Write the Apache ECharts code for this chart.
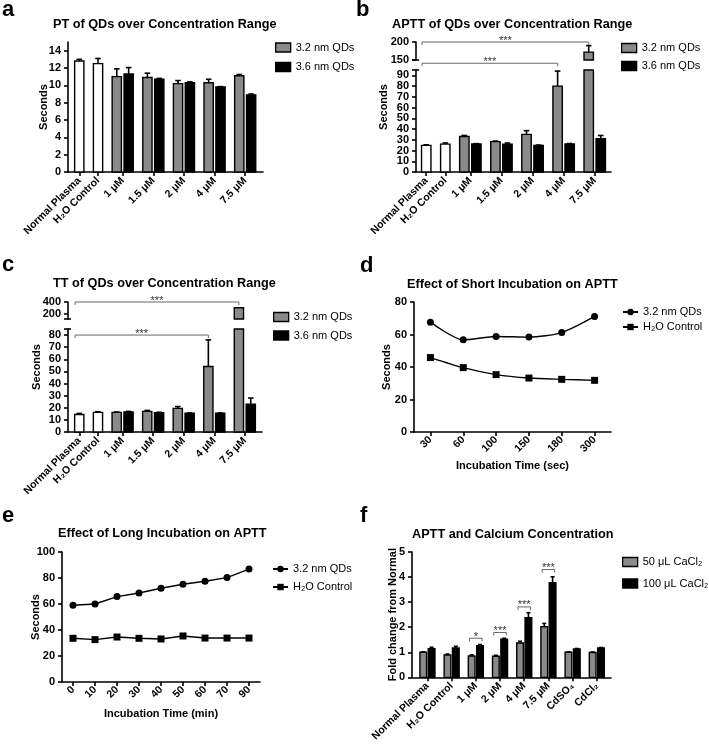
<!DOCTYPE html>
<html><head><meta charset="utf-8">
<script src="https://cdn.jsdelivr.net/npm/echarts@6/dist/echarts.min.js"></script>
<style>html,body{margin:0;padding:0;background:#fff}#c{width:709px;height:744px}</style>
</head><body><div id="c"></div>
<script>
// ---------------- DATA ----------------
const barCats = ['Normal Plasma', 'H₂O Control', '1 μM', '1.5 μM', '2 μM', '4 μM', '7.5 μM'];
const calCats = ['Normal Plasma', 'H₂O Control', '1 μM', '2 μM', '4 μM', '7.5 μM', 'CdSO₄', 'CdCl₂'];

// a: PT
const ptCtrl = [12.8, 12.5, null, null, null, null, null];
const ptCtrlErr = [0.2, 0.6, 0, 0, 0, 0, 0];
const pt32 = [null, null, 11.0, 10.9, 10.2, 10.3, 11.1];
const pt32Err = [0, 0, 0.9, 0.5, 0.35, 0.4, 0.15];
const pt36 = [null, null, 11.3, 10.7, 10.3, 9.8, 8.9];
const pt36Err = [0, 0, 0.75, 0.1, 0.1, 0.05, 0.1];
const ptTicks = [0, 2, 4, 6, 8, 10, 12, 14];

// b: APTT
const apCtrl = [24.8, 26.0, null, null, null, null, null];
const apCtrlErr = [0.5, 1.0, 0, 0, 0, 0, 0];
const ap32 = [null, null, 33.0, 28.3, 35.0, 80.0, 172.0];
const ap32Err = [0, 0, 1.0, 0.5, 3.5, 14.0, 18.0];
const ap36 = [null, null, 26.1, 26.0, 24.8, 26.1, 31.0];
const ap36Err = [0, 0, 0.3, 1.0, 0.3, 0.4, 3.0];
const apTicksLow = [0, 10, 20, 30, 40, 50, 60, 70, 80, 90];
const apTicksHigh = [150, 200];

// c: TT
const ttCtrl = [14.5, 16.2, null, null, null, null, null];
const ttCtrlErr = [0.8, 0.5, 0, 0, 0, 0, 0];
const tt32 = [null, null, 16.2, 17.0, 19.5, 54.0, 305.0];
const tt32Err = [0, 0, 0.3, 0.8, 1.5, 22.0, 0];
const tt36 = [null, null, 16.5, 16.0, 15.5, 15.5, 23.0];
const tt36Err = [0, 0, 0.5, 0.3, 0.2, 0.2, 5.0];
const ttTicksLow = [0, 10, 20, 30, 40, 50, 60, 70, 80];
const ttTicksHigh = [200, 400];

// d: short incubation
const shortTimes = ['30', '60', '100', '150', '180', '300'];
const shortQD = [67.6, 56.7, 58.8, 58.4, 61.2, 71.1];
const shortH2O = [45.8, 39.6, 35.3, 33.2, 32.4, 31.8];
const shortTicks = [0, 20, 40, 60, 80];

// e: long incubation
const longTimes = ['0', '10', '20', '30', '40', '50', '60', '70', '90'];
const longQD = [59.0, 60.0, 65.7, 68.5, 72.1, 75.2, 77.5, 80.3, 86.9];
const longH2O = [33.6, 32.6, 34.6, 33.6, 33.1, 35.4, 33.8, 33.8, 33.8];
const longTicks = [0, 20, 40, 60, 80, 100];

// f: calcium
const ca50 = [1.0, 0.89, 0.85, 0.84, 1.37, 2.02, 1.0, 0.99];
const ca50Err = [0.02, 0.04, 0.05, 0.04, 0.07, 0.13, 0.02, 0.02];
const ca100 = [1.14, 1.17, 1.26, 1.52, 2.38, 3.78, 1.13, 1.17];
const ca100Err = [0.06, 0.07, 0.05, 0.04, 0.2, 0.23, 0.02, 0.02];
const caTicks = [0, 1, 2, 3, 4, 5];

// significance: [group, bar-in-group, group, bar-in-group, level, text]
const sigB = [[0, 0, 6, 0, 200, '***'], [0, 0, 5, 0, 141, '***']];
const sigC = [[0, 0, 6, 0, 400, '***'], [0, 0, 5, 0, 80, '***']];
const sigF = [[2, 0, 2, 1, 1.56, '*'], [3, 0, 3, 1, 1.79, '***'], [4, 0, 4, 1, 2.81, '***'], [5, 0, 5, 1, 4.3, '***']];

// ---------------- STYLE / HELPERS ----------------
const FONT = '"Liberation Sans", Arial, sans-serif';
const GREY = '#8a8a8a';
const AX = { color: '#000', width: 1.6 };

function layout(seriesVals, gap, padL, padR) {
  const n = seriesVals[0].length;
  let cur = 0; const centers = []; const pos = seriesVals.map(() => []); const groupBars = [];
  for (let g = 0; g < n; g++) {
    let k = 0; const gb = [];
    seriesVals.forEach((vals, s) => {
      if (vals[g] != null) { pos[s][g] = cur + 0.5 + k; gb.push(cur + 0.5 + k); k++; } else pos[s][g] = null;
    });
    groupBars.push(gb);
    centers.push(cur + k / 2);
    cur += k + gap;
  }
  return { centers, pos, groupBars, min: -padL, max: cur - gap + padR };
}

function clipRect(t, r) {
  const x = Math.max(t.x, r.x), x2 = Math.min(t.x + t.width, r.x + r.width);
  const y = Math.max(t.y, r.y), y2 = Math.min(t.y + t.height, r.y + r.height);
  if (x2 > x && y2 > y) return { x, y, width: x2 - x, height: y2 - y };
  return null;
}

function barRender(fill, bw) {
  return function (params, api) {
    const x = api.value(0), v = api.value(1), e = api.value(2);
    const cs = params.coordSys;
    const a = api.coord([x - bw / 2, 0]), b = api.coord([x + bw / 2, v]);
    const r = clipRect({ x: a[0], y: b[1], width: b[0] - a[0], height: a[1] - b[1] }, { x: cs.x, y: cs.y, width: cs.width, height: cs.height });
    const ch = [];
    if (r) ch.push({ type: 'rect', shape: r, style: { fill, stroke: '#000', lineWidth: 1.4 } });
    if (e > 0) {
      const t = api.coord([x, v]), h = api.coord([x, v + e]);
      const bottom = cs.y + cs.height, top = cs.y;
      const y1 = Math.min(t[1], bottom), y2 = Math.max(h[1], top);
      if (y2 < y1) ch.push({ type: 'line', shape: { x1: t[0], y1, x2: t[0], y2 }, style: { stroke: '#000', lineWidth: 1.6 } });
      if (h[1] >= top && h[1] <= bottom) {
        const cw = (b[0] - a[0]) * 0.3;
        ch.push({ type: 'line', shape: { x1: t[0] - cw, y1: h[1], x2: t[0] + cw, y2: h[1] }, style: { stroke: '#000', lineWidth: 1.6 } });
      }
    }
    return { type: 'group', children: ch };
  };
}

function barSeries(name, vals, errs, xs, fill, bw, idx) {
  const data = [];
  vals.forEach((v, i) => { if (v != null) data.push([xs[i], v, errs[i] || 0]); });
  return {
    type: 'custom', name, xAxisIndex: idx, yAxisIndex: idx, data, renderItem: barRender(fill, bw),
    itemStyle: { color: fill, borderColor: '#000', borderWidth: 1.3 }, encode: { x: 0, y: 1 },
    silent: true, animation: false, z: 2
  };
}

function sigSeries(items, L, idx) {
  const segs = items.map(d => [L.groupBars[d[0]][d[1]], L.groupBars[d[2]][d[3]], d[4], d[5]]);
  return {
    type: 'custom', xAxisIndex: idx, yAxisIndex: idx, clip: false, silent: true, animation: false, z: 3,
    data: segs.map(s => [s[0], s[1], s[2]]), encode: { x: [0, 1], y: 2 },
    renderItem(params, api) {
      const s = segs[params.dataIndex];
      const single = s[0] !== s[1] && Math.abs(s[1] - s[0]) < 1.5;
      const x1 = single ? s[0] - 0.25 : s[0] - 0.35, x2 = single ? s[1] + 0.25 : s[1];
      const p1 = api.coord([x1, s[2]]), p2 = api.coord([x2, s[2]]);
      return {
        type: 'group', children: [
          { type: 'polyline', shape: { points: [[p1[0], p1[1] + 3], [p1[0], p1[1]], [p2[0], p2[1]], [p2[0], p2[1] + 3]] }, style: { stroke: '#666', lineWidth: 1, fill: null } },
          { type: 'text', style: { text: s[3], x: (p1[0] + p2[0]) / 2, y: p1[1] - 7, align: 'center', verticalAlign: 'top', fontSize: 11, fontFamily: FONT, fill: '#333' } }
        ]
      };
    }
  };
}

function breakSeries(idx, xv, yv) {
  return {
    type: 'custom', xAxisIndex: idx, yAxisIndex: idx, clip: false, silent: true, animation: false, z: 5,
    data: [[xv, yv]], encode: { x: 0, y: 1 },
    renderItem(params, api) {
      const p = api.coord([api.value(0), api.value(1)]);
      return { type: 'line', shape: { x1: p[0] - 4, y1: p[1], x2: p[0] + 3, y2: p[1] }, style: { stroke: '#000', lineWidth: 1.6 } };
    }
  };
}

const yLblStyle = { color: '#000', fontFamily: FONT, fontWeight: 'bold', fontSize: 11 };
const xLblStyle = { color: '#000', fontFamily: FONT, fontWeight: 'bold', fontSize: 10.5 };
const nameStyle = { color: '#000', fontFamily: FONT, fontWeight: 'bold', fontSize: 11 };

function yAx(gi, min, max, ticks, extra, labels) {
  return Object.assign({
    type: 'value', gridIndex: gi, min, max, nameMoveOverlap: false, position: 'left', offset: 0,
    axisLine: { show: true, onZero: false, lineStyle: AX },
    axisTick: { show: true, length: 4, customValues: ticks, lineStyle: AX },
    axisLabel: Object.assign({ customValues: labels || ticks, margin: 7, hideOverlap: false }, yLblStyle),
    splitLine: { show: false }
  }, extra || {});
}
function xBar(gi, L, cats) {
  return {
    type: 'value', gridIndex: gi, min: L.min, max: L.max, nameMoveOverlap: false,
    axisLine: { show: true, onZero: false, lineStyle: AX },
    axisTick: { show: true, length: 4, customValues: L.centers, lineStyle: AX },
    axisLabel: Object.assign({
      customValues: L.centers, rotate: 45, margin: 7, hideOverlap: false,
      formatter: v => { const i = L.centers.findIndex(c => Math.abs(c - v) < 1e-6); return i >= 0 ? cats[i] : ''; }
    }, xLblStyle),
    splitLine: { show: false }
  };
}
function xHidden(gi, L) { return { type: 'value', gridIndex: gi, min: L.min, max: L.max, show: false }; }
function xCat(gi, cats, name, gap) {
  return {
    type: 'category', gridIndex: gi, data: cats, boundaryGap: true, nameMoveOverlap: false,
    axisLine: { show: true, onZero: false, lineStyle: AX },
    axisTick: { show: true, length: 4, alignWithLabel: true, lineStyle: AX },
    axisLabel: Object.assign({ rotate: 45, margin: 6, interval: 0, hideOverlap: false }, xLblStyle),
    name, nameLocation: 'middle', nameGap: gap, nameTextStyle: nameStyle,
    splitLine: { show: false }
  };
}

// ---------------- LAYOUTS ----------------
const LA = layout([ptCtrl, pt32, pt36], 0.58, 0.45, 0.5);
const LB = layout([apCtrl, ap32, ap36], 0.58, 0.35, 0.35);
const LC = layout([ttCtrl, tt32, tt36], 0.58, 0.45, 0.45);
const LF = layout([ca50, ca100], 0.9, 0.85, 0.7);
const BW = 0.78, BWF = 0.8;

const grids = [
  { left: 68, top: 42, width: 195, height: 130 },   // 0 a
  { left: 416, top: 70, width: 195, height: 102 },  // 1 b low
  { left: 416, top: 42, width: 195, height: 18 },   // 2 b high
  { left: 416, top: 42, width: 195, height: 130 },  // 3 b name
  { left: 68, top: 329, width: 194, height: 103 },  // 4 c low
  { left: 68, top: 302, width: 194, height: 17 },   // 5 c high
  { left: 68, top: 302, width: 194, height: 130 },  // 6 c name
  { left: 414, top: 302, width: 197, height: 130 }, // 7 d
  { left: 62, top: 552, width: 198, height: 130 },  // 8 e
  { left: 412, top: 552, width: 199, height: 129 }  // 9 f
];

const xAxes = [
  xBar(0, LA, barCats),
  xBar(1, LB, barCats),
  xHidden(2, LB),
  xHidden(3, LB),
  xBar(4, LC, barCats),
  xHidden(5, LC),
  xHidden(6, LC),
  xCat(7, shortTimes, 'Incubation Time (sec)', 28),
  xCat(8, longTimes, 'Incubation Time (min)', 26),
  xBar(9, LF, calCats)
];
const nameOnly = (gi, gap) => ({
  type: 'value', gridIndex: gi, min: 0, max: 1, axisLine: { show: false }, axisTick: { show: false },
  axisLabel: { show: false }, splitLine: { show: false }, nameMoveOverlap: false,
  name: 'Seconds', nameLocation: 'middle', nameRotate: 90, nameGap: gap, nameTextStyle: nameStyle
});
// the densely labelled lower axis of panel b is split over two overlaid label axes
const apEven = apTicksLow.filter((t, i) => i % 2 === 0);
const apOdd = apTicksLow.filter((t, i) => i % 2 === 1);
const yAxes = [
  yAx(0, 0, 15, ptTicks, { name: 'Seconds', nameLocation: 'middle', nameGap: 19, nameTextStyle: nameStyle }),
  yAx(1, 0, 95, apTicksLow, null, apEven),
  yAx(2, 150, 200, apTicksHigh),
  nameOnly(3, 27),
  yAx(4, 0, 85, ttTicksLow),
  yAx(5, 120, 400, ttTicksHigh),
  nameOnly(6, 26),
  yAx(7, 0, 80, shortTicks, { name: 'Seconds', nameLocation: 'middle', nameGap: 22, nameTextStyle: nameStyle }),
  yAx(8, 0, 100, longTicks, { name: 'Seconds', nameLocation: 'middle', nameGap: 21, nameTextStyle: nameStyle }),
  yAx(9, 0, 5, caTicks, { name: 'Fold change from Normal', nameLocation: 'middle', nameGap: 14, nameTextStyle: nameStyle }),
  yAx(1, 0, 95, apOdd, { axisLine: { show: false }, axisTick: { show: false } }, apOdd)
];

const lineBase = { symbolSize: 7, itemStyle: { color: '#000' }, lineStyle: { color: '#000', width: 1.4 }, animation: false };
const series = [
  // a
  barSeries('ctrl#a', ptCtrl, ptCtrlErr, LA.pos[0], '#fff', BW, 0),
  barSeries('3.2 nm QDs#a', pt32, pt32Err, LA.pos[1], GREY, BW, 0),
  barSeries('3.6 nm QDs#a', pt36, pt36Err, LA.pos[2], '#000', BW, 0),
  // b
  barSeries('ctrl#b', apCtrl, apCtrlErr, LB.pos[0], '#fff', BW, 1),
  barSeries('3.2 nm QDs#b', ap32, ap32Err, LB.pos[1], GREY, BW, 1),
  barSeries('3.6 nm QDs#b', ap36, ap36Err, LB.pos[2], '#000', BW, 1),
  barSeries('ctrl#b2', apCtrl, apCtrlErr, LB.pos[0], '#fff', BW, 2),
  barSeries('q32#b2', ap32, ap32Err, LB.pos[1], GREY, BW, 2),
  barSeries('q36#b2', ap36, ap36Err, LB.pos[2], '#000', BW, 2),
  sigSeries(sigB, LB, 2),
  breakSeries(1, LB.min, 95), breakSeries(2, LB.min, 150),
  // c
  barSeries('ctrl#c', ttCtrl, ttCtrlErr, LC.pos[0], '#fff', BW, 4),
  barSeries('3.2 nm QDs#c', tt32, tt32Err, LC.pos[1], GREY, BW, 4),
  barSeries('3.6 nm QDs#c', tt36, tt36Err, LC.pos[2], '#000', BW, 4),
  barSeries('ctrl#c2', ttCtrl, ttCtrlErr, LC.pos[0], '#fff', BW, 5),
  barSeries('q32#c2', tt32, tt32Err, LC.pos[1], GREY, BW, 5),
  barSeries('q36#c2', tt36, tt36Err, LC.pos[2], '#000', BW, 5),
  sigSeries([sigC[0]], LC, 5), sigSeries([sigC[1]], LC, 4),
  breakSeries(4, LC.min, 85), breakSeries(5, LC.min, 120),
  // d
  Object.assign({ type: 'line', name: '3.2 nm QDs#d', xAxisIndex: 7, yAxisIndex: 7, data: shortQD, smooth: 0.25, symbol: 'circle' }, lineBase),
  Object.assign({ type: 'line', name: 'H₂O Control#d', xAxisIndex: 7, yAxisIndex: 7, data: shortH2O, smooth: 0.25, symbol: 'rect' }, lineBase),
  // e
  Object.assign({ type: 'line', name: '3.2 nm QDs#e', xAxisIndex: 8, yAxisIndex: 8, data: longQD, symbol: 'circle' }, lineBase),
  Object.assign({ type: 'line', name: 'H₂O Control#e', xAxisIndex: 8, yAxisIndex: 8, data: longH2O, symbol: 'rect' }, lineBase),
  // f
  barSeries('50 μL CaCl₂#f', ca50, ca50Err, LF.pos[0], GREY, BWF, 9),
  barSeries('100 μL CaCl₂#f', ca100, ca100Err, LF.pos[1], '#000', BWF, 9),
  sigSeries(sigF, LF, 9)
];

const titleStyle = { fontFamily: FONT, fontWeight: 'bold', fontSize: 12.7, color: '#000' };
const letterStyle = { fontFamily: FONT, fontWeight: 'bold', fontSize: 22, color: '#000' };
const titles = [
  { text: 'PT of QDs over Concentration Range', left: 53, top: 17.5, textStyle: titleStyle, padding: 0 },
  { text: 'APTT of QDs over Concentration Range', left: 392, top: 18, textStyle: titleStyle, padding: 0 },
  { text: 'TT of QDs over Concentration Range', left: 53, top: 277, textStyle: titleStyle, padding: 0 },
  { text: 'Effect of Short Incubation on APTT', left: 407, top: 278, textStyle: titleStyle, padding: 0 },
  { text: 'Effect of Long Incubation on APTT', left: 58, top: 526.5, textStyle: titleStyle, padding: 0 },
  { text: 'APTT and Calcium Concentration', left: 412, top: 527.5, textStyle: titleStyle, padding: 0 },
  { text: 'a', left: 2, top: -1, textStyle: letterStyle, padding: 0 },
  { text: 'b', left: 356, top: -1, textStyle: letterStyle, padding: 0 },
  { text: 'c', left: 2, top: 254, textStyle: letterStyle, padding: 0 },
  { text: 'd', left: 360, top: 255, textStyle: letterStyle, padding: 0 },
  { text: 'e', left: 2, top: 505, textStyle: letterStyle, padding: 0 },
  { text: 'f', left: 360, top: 505, textStyle: letterStyle, padding: 0 }
];

const legTxt = { fontFamily: FONT, fontSize: 11, color: '#000' };
const fmt = n => n.split('#')[0];
function boxLegend(left, top, gap, names, fills) {
  return {
    left, top, orient: 'vertical', padding: 0, itemGap: gap, itemWidth: 15, itemHeight: 9, selectedMode: false,
    formatter: fmt, textStyle: legTxt,
    data: names.map((n, i) => ({ name: n, icon: 'rect', itemStyle: { color: fills[i], borderColor: '#000', borderWidth: 1.3 } }))
  };
}
function lineLegend(left, top, gap, names) {
  return {
    left, top, orient: 'vertical', padding: 0, itemGap: gap, itemWidth: 15, itemHeight: 8, selectedMode: false,
    formatter: fmt, textStyle: legTxt, data: names
  };
}
const legends = [
  boxLegend(275, 42, 8.5, ['3.2 nm QDs#a', '3.6 nm QDs#a'], [GREY, '#000']),
  boxLegend(621, 42.5, 7, ['3.2 nm QDs#b', '3.6 nm QDs#b'], [GREY, '#000']),
  boxLegend(273, 311.5, 7.5, ['3.2 nm QDs#c', '3.6 nm QDs#c'], [GREY, '#000']),
  lineLegend(622, 306.5, 4, ['3.2 nm QDs#d', 'H₂O Control#d']),
  lineLegend(272, 563.5, 7, ['3.2 nm QDs#e', 'H₂O Control#e']),
  boxLegend(622, 556.5, 10.5, ['50 μL CaCl₂#f', '100 μL CaCl₂#f'], [GREY, '#000'])
];

const chart = echarts.init(document.getElementById('c'), null, { renderer: 'canvas' });
chart.setOption({
  backgroundColor: '#fff', animation: false,
  title: titles, legend: legends, grid: grids, xAxis: xAxes, yAxis: yAxes, series
});
</script></body></html>
